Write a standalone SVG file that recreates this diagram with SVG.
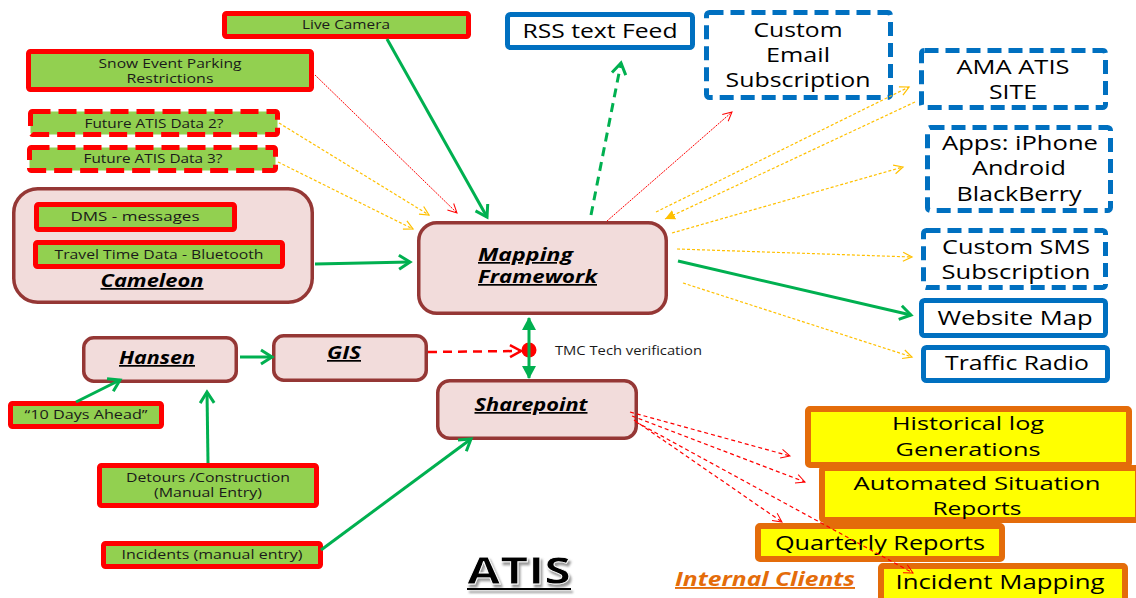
<svg xmlns="http://www.w3.org/2000/svg" width="1136" height="598" viewBox="0 0 1136 598">
<style>
.g{fill:#92d050;stroke:#ff0000;stroke-width:5}
.gd{stroke-dasharray:18 8}
.p{fill:#f2dcdb;stroke:#953735;stroke-width:3.5}
.b{fill:#ffffff;stroke:#0070c0;stroke-width:5}
.bd{stroke-dasharray:14 7}
.o{fill:#ffff00;stroke:#e46c0a;stroke-width:6}
text{font-family:"Open Sans","Liberation Sans",sans-serif;text-anchor:middle}
.ts{font-size:12px;fill:#1a1a1a}
.tl{font-size:20px;fill:#000}
.tm{font-size:19px;fill:#000}
.tn{font-size:17px;font-weight:bold;font-style:italic;text-decoration:underline;fill:#000}
.cg{stroke:#00b050;stroke-width:3;fill:none}
.cy{stroke:#ffc000;stroke-width:1.2;fill:none;stroke-dasharray:3 2}
.cr{stroke:#ff0000;stroke-width:1;fill:none;stroke-dasharray:2 1}
.crd{stroke:#ff0000;stroke-width:1.2;fill:none;stroke-dasharray:4 3}
</style>
<defs>
<marker id="mG" markerUnits="userSpaceOnUse" viewBox="-2 -9 18 18" markerWidth="18" markerHeight="18" refX="12" refY="0" orient="auto"><path d="M1,-7 L12,0 L1,7" fill="none" stroke="#00b050" stroke-width="3"/></marker>
<marker id="mGF" markerUnits="userSpaceOnUse" viewBox="0 -8 14 16" markerWidth="14" markerHeight="16" refX="12" refY="0" orient="auto-start-reverse"><path d="M0,-7 L13,0 L0,7 Z" fill="#00b050"/></marker>
<marker id="mR" markerUnits="userSpaceOnUse" viewBox="-1 -6 12 12" markerWidth="12" markerHeight="12" refX="9" refY="0" orient="auto"><path d="M0,-4.5 L9,0 L0,4.5" fill="none" stroke="#ff0000" stroke-width="1"/></marker>
<marker id="mRT" markerUnits="userSpaceOnUse" viewBox="-2 -8 16 16" markerWidth="16" markerHeight="16" refX="11" refY="0" orient="auto"><path d="M0,-6 L11,0 L0,6" fill="none" stroke="#ff0000" stroke-width="2.5"/></marker>
<marker id="mY" markerUnits="userSpaceOnUse" viewBox="-1 -6 12 12" markerWidth="12" markerHeight="12" refX="9" refY="0" orient="auto"><path d="M0,-4.5 L9,0 L0,4.5" fill="none" stroke="#ffc000" stroke-width="1.2"/></marker>
<marker id="mYF" markerUnits="userSpaceOnUse" viewBox="0 -6 12 12" markerWidth="12" markerHeight="12" refX="10" refY="0" orient="auto"><path d="M0,-5 L10,0 L0,5 Z" fill="#ffc000"/></marker>
<filter id="shadow" x="-20%" y="-20%" width="140%" height="150%"><feDropShadow dx="2" dy="3" stdDeviation="1" flood-color="#808080" flood-opacity="0.8"/></filter>
</defs>
<rect width="1136" height="598" fill="#ffffff"/>

<g id="live-camera"><rect class="g" x="224.5" y="13.5" width="244" height="23" rx="2"/><text class="ts" x="346" y="29" textLength="88" lengthAdjust="spacingAndGlyphs">Live Camera</text></g>
<g id="snow-event"><rect class="g" x="28.5" y="51.5" width="283" height="38" rx="2"/><text class="ts" x="170" y="68" textLength="143" lengthAdjust="spacingAndGlyphs">Snow Event Parking</text><text class="ts" x="170" y="83" textLength="87" lengthAdjust="spacingAndGlyphs">Restrictions</text></g>
<g id="future-2"><rect class="g gd" x="30.5" y="111.5" width="247" height="23" rx="2"/><text class="ts" x="154" y="128" textLength="139" lengthAdjust="spacingAndGlyphs">Future ATIS Data 2?</text></g>
<g id="future-3"><rect class="g gd" x="29.5" y="147.5" width="246" height="23" rx="2"/><text class="ts" x="153" y="163" textLength="139" lengthAdjust="spacingAndGlyphs">Future ATIS Data 3?</text></g>

<g id="cameleon"><rect class="p" x="13.75" y="188.75" width="298.5" height="113.5" rx="24"/>
<rect class="g" x="36.5" y="204.5" width="198" height="25" rx="2"/><text class="ts" x="135" y="221" textLength="129" lengthAdjust="spacingAndGlyphs">DMS - messages</text>
<rect class="g" x="35.5" y="242.5" width="247" height="24" rx="2"/><text class="ts" x="159" y="259" textLength="209" lengthAdjust="spacingAndGlyphs">Travel Time Data - Bluetooth</text>
<text class="tn" x="152" y="287" textLength="103" lengthAdjust="spacingAndGlyphs">Cameleon</text></g>

<g id="hansen"><rect class="p" x="83.75" y="337.75" width="152.5" height="43.5" rx="10"/><text class="tn" x="157" y="364" textLength="76" lengthAdjust="spacingAndGlyphs">Hansen</text></g>
<g id="gis"><rect class="p" x="273.75" y="335.75" width="152.5" height="44.5" rx="10"/><text class="tn" x="344" y="359" textLength="34" lengthAdjust="spacingAndGlyphs">GIS</text></g>
<g id="mapping-framework"><rect class="p" x="418.75" y="222.75" width="247.5" height="90.5" rx="18"/><text class="tn" x="478" y="261" style="text-anchor:start" textLength="95" lengthAdjust="spacingAndGlyphs">Mapping</text><text class="tn" x="478" y="283" style="text-anchor:start" textLength="119" lengthAdjust="spacingAndGlyphs">Framework</text></g>
<g id="sharepoint"><rect class="p" x="437.75" y="380.75" width="198.5" height="57.5" rx="12"/><text class="tn" x="531" y="411" textLength="113" lengthAdjust="spacingAndGlyphs">Sharepoint</text></g>

<g id="ten-days"><rect class="g" x="10.5" y="403.5" width="151" height="23" rx="2"/><text class="ts" x="86" y="419" textLength="123" lengthAdjust="spacingAndGlyphs">“10 Days Ahead”</text></g>
<g id="detours"><rect class="g" x="99.5" y="465.5" width="217" height="40" rx="2"/><text class="ts" x="208" y="482" textLength="164" lengthAdjust="spacingAndGlyphs">Detours /Construction</text><text class="ts" x="208" y="497" textLength="108" lengthAdjust="spacingAndGlyphs">(Manual Entry)</text></g>
<g id="incidents"><rect class="g" x="103.5" y="543.5" width="217" height="23" rx="2"/><text class="ts" x="212" y="559" textLength="181" lengthAdjust="spacingAndGlyphs">Incidents (manual entry)</text></g>

<g id="rss"><rect class="b" x="507.5" y="14.5" width="185" height="33" rx="3"/><text class="tl" x="600" y="38" textLength="155" lengthAdjust="spacingAndGlyphs">RSS text Feed</text></g>
<g id="custom-email"><rect class="b bd" x="706.5" y="12.5" width="184" height="85" rx="3"/><text class="tl" x="798" y="37" textLength="89" lengthAdjust="spacingAndGlyphs">Custom</text><text class="tl" x="798" y="62" textLength="64" lengthAdjust="spacingAndGlyphs">Email</text><text class="tl" x="798" y="87" textLength="145" lengthAdjust="spacingAndGlyphs">Subscription</text></g>
<g id="ama-atis"><rect class="b bd" x="921.5" y="50.5" width="184" height="57" rx="3"/><text class="tl" x="1013" y="74" textLength="113" lengthAdjust="spacingAndGlyphs">AMA ATIS</text><text class="tl" x="1013" y="99" textLength="48" lengthAdjust="spacingAndGlyphs">SITE</text></g>
<g id="apps"><rect class="b bd" x="927.5" y="127.5" width="183" height="83" rx="3"/><text class="tl" x="1020" y="150" textLength="156" lengthAdjust="spacingAndGlyphs">Apps: iPhone</text><text class="tl" x="1019" y="175" textLength="94" lengthAdjust="spacingAndGlyphs">Android</text><text class="tl" x="1019" y="201" textLength="125" lengthAdjust="spacingAndGlyphs">BlackBerry</text></g>
<g id="custom-sms"><rect class="b bd" x="923.5" y="230.5" width="182" height="57" rx="3"/><text class="tl" x="1016" y="254" textLength="148" lengthAdjust="spacingAndGlyphs">Custom SMS</text><text class="tl" x="1016" y="279" textLength="149" lengthAdjust="spacingAndGlyphs">Subscription</text></g>
<g id="website-map"><rect class="b" x="921.5" y="300.5" width="184" height="35" rx="3"/><text class="tl" x="1015" y="325" textLength="155" lengthAdjust="spacingAndGlyphs">Website Map</text></g>
<g id="traffic-radio"><rect class="b" x="923.5" y="347.5" width="184" height="33" rx="3"/><text class="tl" x="1017" y="370" textLength="144" lengthAdjust="spacingAndGlyphs">Traffic Radio</text></g>

<g id="historical-log"><rect class="o" x="808" y="409" width="321" height="56" rx="2"/><text class="tm" x="968" y="430" textLength="152" lengthAdjust="spacingAndGlyphs">Historical log</text><text class="tm" x="968" y="456" textLength="145" lengthAdjust="spacingAndGlyphs">Generations</text></g>
<g id="automated-reports"><rect class="o" x="822" y="468" width="316" height="52" rx="2"/><text class="tm" x="977" y="490" textLength="247" lengthAdjust="spacingAndGlyphs">Automated Situation</text><text class="tm" x="977" y="515" textLength="89" lengthAdjust="spacingAndGlyphs">Reports</text></g>
<g id="quarterly-reports"><rect class="o" x="758" y="526" width="244" height="33" rx="2"/><text class="tl" x="880" y="550" textLength="210" lengthAdjust="spacingAndGlyphs">Quarterly Reports</text></g>
<g id="incident-mapping"><rect class="o" x="881" y="566" width="244" height="38" rx="2"/><text class="tl" x="1000" y="589" textLength="209" lengthAdjust="spacingAndGlyphs">Incident Mapping</text></g>

<g id="tmc-verification"><circle cx="529" cy="350" r="7.5" fill="#ff0000"/><text class="ts" x="555" y="355" style="text-anchor:start" textLength="147" lengthAdjust="spacingAndGlyphs">TMC Tech verification</text></g>

<g id="title" filter="url(#shadow)"><text x="519" y="584" style="font-size:38px;font-weight:bold;fill:#000;stroke:#ffffff;stroke-width:0.8" textLength="104" lengthAdjust="spacingAndGlyphs">ATIS</text><line x1="467" y1="589" x2="571" y2="589" stroke="#000" stroke-width="2"/></g>
<g id="internal-clients"><text x="765" y="586" style="font-size:19px;font-weight:bold;font-style:italic;text-decoration:underline;fill:#e46c0a" textLength="180" lengthAdjust="spacingAndGlyphs">Internal Clients</text></g>

<g id="connectors">
<line class="cg" x1="387" y1="39" x2="487" y2="217" marker-end="url(#mG)"/>
<line class="cg" x1="315" y1="264" x2="410" y2="262" marker-end="url(#mG)"/>
<line class="cg" x1="678" y1="261" x2="911" y2="315" marker-end="url(#mG)"/>
<line class="cg" x1="240" y1="357" x2="272" y2="357" marker-end="url(#mG)"/>
<line class="cg" x1="76" y1="402" x2="120" y2="380" marker-end="url(#mG)"/>
<line class="cg" x1="208" y1="463" x2="207" y2="392" marker-end="url(#mG)"/>
<line class="cg" x1="321" y1="550" x2="471" y2="439" marker-end="url(#mG)"/>
<line class="cg" x1="529" y1="318" x2="529" y2="378" marker-start="url(#mGF)" marker-end="url(#mGF)"/>
<line class="cg" x1="591" y1="215" x2="621" y2="63" stroke-width="3.5" stroke-dasharray="9 6" marker-end="url(#mG)"/>
<line x1="428" y1="352" x2="521" y2="351" stroke="#ff0000" stroke-width="2.5" stroke-dasharray="9 6" marker-end="url(#mRT)"/>
<line class="cr" x1="315" y1="75" x2="457" y2="213" marker-end="url(#mR)"/>
<line class="cr" x1="607" y1="221" x2="732" y2="112" marker-end="url(#mR)"/>
<line class="cy" x1="279" y1="123" x2="429" y2="215" marker-end="url(#mY)"/>
<line class="cy" x1="278" y1="162" x2="413" y2="229" marker-end="url(#mY)"/>
<line class="cy" x1="656" y1="212" x2="909" y2="87" marker-end="url(#mY)"/>
<line class="cy" x1="915" y1="102" x2="665" y2="219" marker-end="url(#mYF)"/>
<line class="cy" x1="672" y1="233" x2="903" y2="167" marker-end="url(#mY)"/>
<line class="cy" x1="677" y1="249" x2="912" y2="257" marker-end="url(#mY)"/>
<line class="cy" x1="683" y1="283" x2="912" y2="357" marker-end="url(#mY)"/>
<line class="crd" x1="630" y1="412" x2="790" y2="456" marker-end="url(#mR)"/>
<line class="crd" x1="632" y1="416" x2="805" y2="482" marker-end="url(#mR)"/>
<line class="crd" x1="634" y1="420" x2="782" y2="522" marker-end="url(#mR)"/>
<line class="crd" x1="636" y1="422" x2="913" y2="573" marker-end="url(#mR)"/>
</g>
</svg>
